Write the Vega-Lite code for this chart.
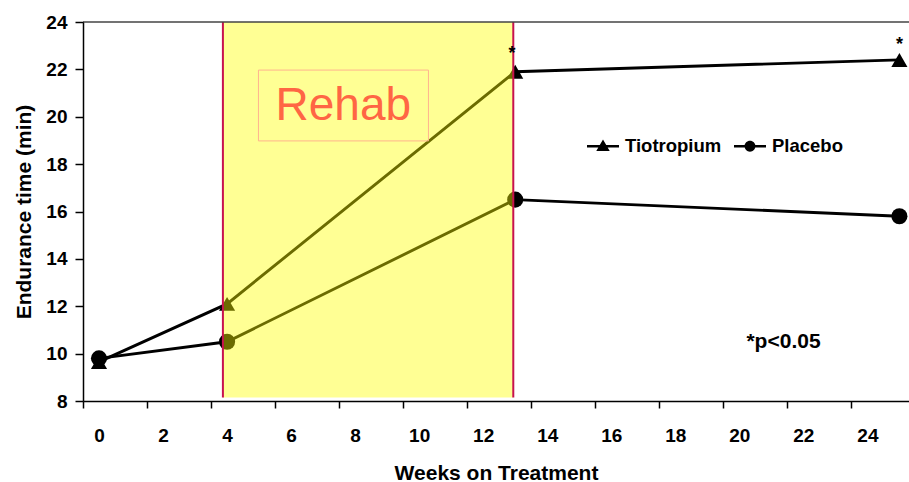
{
  "$schema": "https://vega.github.io/schema/vega-lite/v6.json",
  "width": 826,
  "height": 379,
  "autosize": {"type": "none"},
  "padding": {"left": 83, "top": 22, "right": 0, "bottom": 81},
  "background": "white",
  "config": {"view": {"stroke": null}, "font": "Liberation Sans"},
  "datasets": {
    "series": [
      {"series": "Tiotropium", "week": 0, "value": 9.65},
      {"series": "Tiotropium", "week": 4, "value": 12.1},
      {"series": "Tiotropium", "week": 13, "value": 21.9},
      {"series": "Tiotropium", "week": 25, "value": 22.4},
      {"series": "Placebo", "week": 0, "value": 9.8},
      {"series": "Placebo", "week": 4, "value": 10.5},
      {"series": "Placebo", "week": 13, "value": 16.5},
      {"series": "Placebo", "week": 25, "value": 15.8}
    ],
    "box": [{"x": 3.87, "x2": 12.94, "y": 8.15, "y2": 24}],
    "edges": [{"x": 3.87}, {"x": 12.94}],
    "label": [{"x": 4.98, "x2": 10.29, "y": 18.98, "y2": 21.97, "cx": 7.63, "cy": 20.45, "text": "Rehab"}],
    "stars": [{"week": 12.9, "y": 22.63, "text": "*"}, {"week": 25, "y": 23.01, "text": "*"}],
    "note": [{"x": 21.38, "y": 10.49, "text": "*p<0.05"}]
  },
  "resolve": {"scale": {"shape": "independent"}},
  "layer": [
    {
      "data": {"name": "series"},
      "mark": {"type": "line", "color": "black", "strokeWidth": 2.9},
      "encoding": {
        "x": {
          "field": "week", "type": "quantitative",
          "scale": {"domain": [-0.5, 25.3], "nice": false, "zero": false},
          "axis": {
            "title": "Weeks on Treatment",
            "values": [-0.5, 0.5, 1.5, 2.5, 3.5, 4.5, 5.5, 6.5, 7.5, 8.5, 9.5, 10.5, 11.5, 12.5, 13.5, 14.5, 15.5, 16.5, 17.5, 18.5, 19.5, 20.5, 21.5, 22.5, 23.5, 24.5],
            "labelExpr": "(datum.value + 0.5) % 2 === 0 ? '' + (datum.value + 0.5) : ''",
            "labelOffset": 16,
            "labelOverlap": false,
            "labelFlush": false,
            "labelBound": false,
            "tickSize": 7,
            "tickWidth": 1.5,
            "tickColor": "black",
            "domainColor": "black",
            "domainWidth": 1.5,
            "labelPadding": 18,
            "labelFont": "Liberation Sans",
            "labelFontSize": 19,
            "labelFontWeight": "bold",
            "labelColor": "black",
            "titleFont": "Liberation Sans",
            "titleFontSize": 21,
            "titleFontWeight": "bold",
            "titleColor": "black",
            "titlePadding": 17,
            "grid": false,
            "zindex": 1
          }
        },
        "y": {
          "field": "value", "type": "quantitative",
          "scale": {"domain": [8, 24], "nice": false, "zero": false},
          "axis": {
            "title": "Endurance time (min)",
            "values": [8, 10, 12, 14, 16, 18, 20, 22, 24],
            "tickSize": 8,
            "tickWidth": 1.5,
            "tickColor": "black",
            "domainColor": "black",
            "domainWidth": 1.5,
            "labelPadding": 8,
            "labelFont": "Liberation Sans",
            "labelFontSize": 19,
            "labelFontWeight": "bold",
            "labelColor": "black",
            "titleFont": "Liberation Sans",
            "titleFontSize": 21,
            "titleFontWeight": "bold",
            "titleColor": "black",
            "titlePadding": 11,
            "grid": false,
            "zindex": 1
          }
        },
        "detail": {"field": "series"}
      }
    },
    {
      "data": {"name": "series"},
      "mark": {"type": "point", "filled": true, "size": 260, "color": "black", "opacity": 1},
      "encoding": {
        "x": {"field": "week", "type": "quantitative"},
        "y": {"field": "value", "type": "quantitative"},
        "shape": {
          "field": "series", "type": "nominal",
          "scale": {"domain": ["Tiotropium", "Placebo"], "range": ["triangle-up", "circle"]},
          "legend": null
        }
      }
    },
    {
      "data": {"name": "series"},
      "transform": [{"filter": "datum.week > 1000"}],
      "mark": {"type": "point", "filled": true, "size": 1024, "color": "black", "opacity": 1},
      "encoding": {
        "x": {"field": "week", "type": "quantitative"},
        "y": {"field": "value", "type": "quantitative"},
        "shape": {
          "field": "series", "type": "nominal",
          "scale": {"domain": ["Tiotropium", "Placebo"], "range": ["M-1,-0.08H1V0.08H-1ZM0,-0.42L0.42,0.3L-0.42,0.3Z", "M-1,-0.08H1V0.08H-1ZM0.34,0A0.34,0.34 0 1,1 -0.34,0A0.34,0.34 0 1,1 0.34,0Z"]},
          "legend": {
            "orient": "none",
            "legendX": 503,
            "legendY": 107,
            "direction": "horizontal",
            "title": null,
            "padding": 0,
            "labelFont": "Liberation Sans",
            "labelFontWeight": "bold",
            "labelFontSize": 18.5,
            "labelColor": "black",
            "symbolSize": 1024,
            "symbolFillColor": "black",
            "labelOffset": 5,
            "columnPadding": 9
          }
        }
      }
    },
    {
      "data": {"name": "box"},
      "mark": {"type": "rect", "fill": "#FFFF00", "opacity": 0.42},
      "encoding": {
        "x": {"field": "x", "type": "quantitative"},
        "x2": {"field": "x2"},
        "y": {"field": "y", "type": "quantitative"},
        "y2": {"field": "y2"}
      }
    },
    {
      "data": {"name": "edges"},
      "mark": {"type": "rule", "color": "#C8124E", "strokeWidth": 2},
      "encoding": {
        "x": {"field": "x", "type": "quantitative"},
        "y": {"datum": 8.15},
        "y2": {"datum": 24}
      }
    },
    {
      "data": {"values": [{}]},
      "mark": {"type": "rule", "color": "#444444", "strokeWidth": 1.5},
      "encoding": {"y": {"datum": 24}}
    },
    {
      "data": {"name": "label"},
      "mark": {"type": "rect", "fill": null, "fillOpacity": 0, "stroke": "#FFB38F", "strokeWidth": 1},
      "encoding": {
        "x": {"field": "x", "type": "quantitative"},
        "x2": {"field": "x2"},
        "y": {"field": "y", "type": "quantitative"},
        "y2": {"field": "y2"}
      }
    },
    {
      "data": {"name": "label"},
      "mark": {"type": "text", "font": "Liberation Sans", "fontSize": 46, "color": "#FF6644", "align": "center", "baseline": "middle"},
      "encoding": {
        "x": {"field": "cx", "type": "quantitative"},
        "y": {"field": "cy", "type": "quantitative"},
        "text": {"field": "text"}
      }
    },
    {
      "data": {"name": "stars"},
      "mark": {"type": "text", "font": "Liberation Sans", "fontSize": 18, "fontWeight": "bold", "color": "black", "align": "center", "baseline": "middle"},
      "encoding": {
        "x": {"field": "week", "type": "quantitative"},
        "y": {"field": "y", "type": "quantitative"},
        "text": {"field": "text"}
      }
    },
    {
      "data": {"name": "note"},
      "mark": {"type": "text", "font": "Liberation Sans", "fontSize": 21, "fontWeight": "bold", "color": "black", "align": "center", "baseline": "middle"},
      "encoding": {
        "x": {"field": "x", "type": "quantitative"},
        "y": {"field": "y", "type": "quantitative"},
        "text": {"field": "text"}
      }
    }
  ]
}
